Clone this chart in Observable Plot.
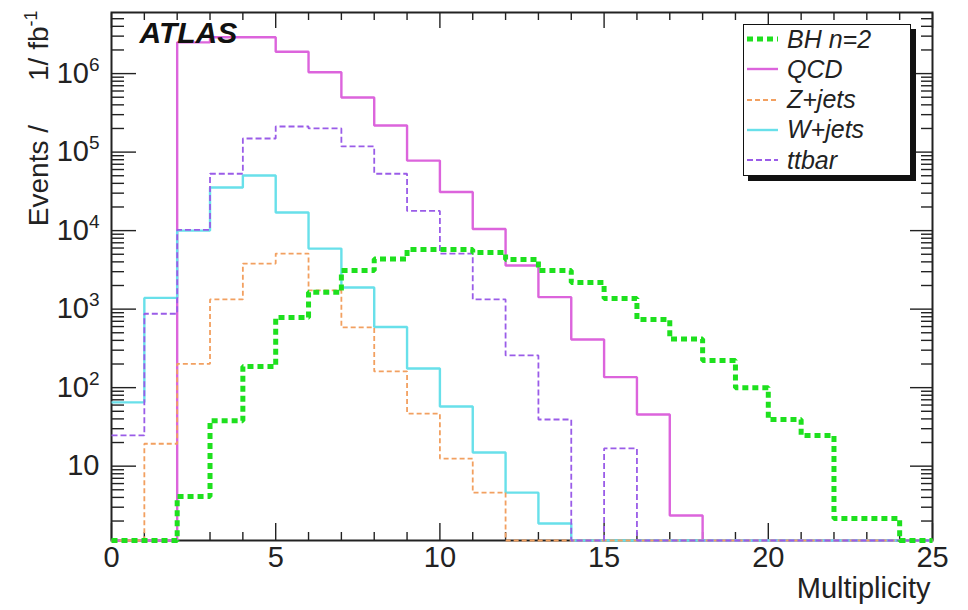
<!DOCTYPE html>
<html>
<head>
<meta charset="utf-8">
<script src="https://cdn.jsdelivr.net/npm/d3@7"></script>
<script src="https://cdn.jsdelivr.net/npm/@observablehq/plot@0.6"></script>
<style>
html, body { margin: 0; padding: 0; background: #fff; }
#wrap { position: relative; width: 968px; height: 610px; overflow: hidden; }
#legend { position: absolute; left: 743px; top: 24px; width: 166px; height: 150px;
  border: 1.8px solid #111; background: #fff; box-shadow: 5px 5px 0 #111;
  font-family: "Liberation Sans", Arial, sans-serif; font-style: italic; font-size: 25px; color: #222; }
.item { position: absolute; left: 3px; height: 30px; display: flex; align-items: center; white-space: nowrap; }
.item svg { display: block; margin-right: 9px; }
</style>
</head>
<body>
<div id="wrap"></div>
<script>
// ---- data (bin lower edges, events per bin) ----
const multiplicity = [0,1,2,3,4,5,6,7,8,9,10,11,12,13,14,15,16,17,18,19,20,21,22,23,24];
const bhN2  = [0, 0, 4.1, 38, 186, 782, 1640, 3100, 4350, 5750, 5750, 5260, 4290, 3100, 2180, 1370, 738, 417, 222, 100, 39.3, 24.6, 2.15, 2.15, 0];
const qcd   = [0, 0, 2.5e6, 2.9e6, 2.9e6, 1.9e6, 1.04e6, 4.96e5, 2.18e5, 7.8e4, 3.1e4, 1.05e4, 3600, 1420, 410, 136, 45.5, 2.35, 0, 0, 0, 0, 0, 0, 0];
const zJets = [0, 19.3, 201, 1330, 3800, 5100, 1730, 584, 161, 46.8, 12.5, 4.6, 0, 0, 0, 0, 0, 0, 0, 0, 0, 0, 0, 0, 0];
const wJets = [65, 1390, 1.0e4, 3.54e4, 5.04e4, 1.7e4, 5900, 1890, 592, 175, 57.5, 14.9, 4.6, 1.86, 0, 0, 0, 0, 0, 0, 0, 0, 0, 0, 0];
const ttbar = [24.6, 873, 1.02e4, 5.3e4, 1.49e5, 2.12e5, 2.0e5, 1.18e5, 5.3e4, 1.78e4, 5100, 1330, 257, 39.3, 0, 16.8, 0, 0, 0, 0, 0, 0, 0, 0, 0];
const seriesNames = ["BH n=2", "QCD", "Z+jets", "W+jets", "ttbar"];
const xTickLabels = [0, 5, 10, 15, 20, 25];
const yTickLabels = [10, 100, 1e3, 1e4, 1e5, 1e6];

// ---- styles ----
const seriesValues = {"BH n=2": bhN2, "QCD": qcd, "Z+jets": zJets, "W+jets": wJets, "ttbar": ttbar};
const styles = {
  "BH n=2": {stroke: "#1ee01e", strokeWidth: 5, strokeDasharray: "6,4"},
  "QCD":    {stroke: "#dc64dc", strokeWidth: 2.4, strokeDasharray: null},
  "Z+jets": {stroke: "#f2a060", strokeWidth: 1.8, strokeDasharray: "5,3"},
  "W+jets": {stroke: "#68e0ea", strokeWidth: 2.4, strokeDasharray: null},
  "ttbar":  {stroke: "#9a5ce8", strokeWidth: 1.8, strokeDasharray: "6,3"}
};
const drawOrder = ["QCD", "W+jets", "Z+jets", "ttbar", "BH n=2"];

const yMin = 1.13, yMax = 6.0e6;
const minorY = [];
for (let n = 0; n <= 6; n++) for (let k = 2; k <= 9; k++) { const v = k * 10 ** n; if (v > yMin && v < yMax) minorY.push(v); }
const minorX = d3.range(0, 26).filter(v => v % 5 !== 0);

function rowsFor(name) {
  const vals = seriesValues[name];
  const rows = multiplicity.map((m, i) => ({x: m, v: vals[i]}));
  rows.push({x: multiplicity[multiplicity.length - 1] + 1, v: vals[vals.length - 1]});
  return rows.map(r => ({x: r.x, y: Math.max(r.v, yMin)}));
}

const tickStyle = {fill: "none", label: null, stroke: "#222", strokeWidth: 1.4};
const marks = [
  Plot.axisY(minorY, {anchor: "left", tickSize: -13, ...tickStyle}),
  Plot.axisY(yTickLabels, {anchor: "left", tickSize: -25, ...tickStyle}),
  Plot.axisY(minorY, {anchor: "right", tickSize: -12, ...tickStyle}),
  Plot.axisY(yTickLabels, {anchor: "right", tickSize: -23, ...tickStyle}),
  Plot.axisX(minorX, {anchor: "bottom", tickSize: -8, ...tickStyle}),
  Plot.axisX(xTickLabels, {anchor: "bottom", tickSize: -17, ...tickStyle}),
  Plot.axisX(minorX, {anchor: "top", tickSize: -7, ...tickStyle}),
  Plot.axisX(xTickLabels, {anchor: "top", tickSize: -15, ...tickStyle}),
  Plot.axisY(yTickLabels, {anchor: "left", tickSize: 0, tickPadding: 12, label: null, fill: "#222", fontSize: 29,
    tickFormat: d => d === 10 ? "10" : "10^" + Math.round(Math.log10(d))}),
  Plot.axisX(xTickLabels, {anchor: "bottom", tickSize: 0, tickPadding: 6, label: null, fill: "#222", fontSize: 29,
    tickFormat: d => String(d)}),
  Plot.frame({stroke: "#222", strokeWidth: 2}),
  ...drawOrder.map(name => Plot.line(rowsFor(name), {
    x: "x", y: "y", curve: "step-after",
    stroke: styles[name].stroke, strokeWidth: styles[name].strokeWidth,
    strokeDasharray: styles[name].strokeDasharray, strokeLinejoin: "miter", strokeLinecap: "butt"
  })),
  Plot.text(["ATLAS"], {frameAnchor: "top-left", dx: 28, dy: 21, textAnchor: "start", lineAnchor: "middle",
    fontSize: 30, fontWeight: "bold", fontStyle: "italic", fill: "#111"}),
  Plot.text(["Multiplicity"], {frameAnchor: "bottom-right", dx: -2, dy: 48, textAnchor: "end", lineAnchor: "middle",
    fontSize: 29, fill: "#222"}),
  Plot.text(["Events /"], {frameAnchor: "top-left", dx: -64, dy: -2, rotate: -90, textAnchor: "end", lineAnchor: "bottom",
    fontSize: 28, fill: "#222"})
];

const chart = Plot.plot({
  width: 968, height: 610,
  marginLeft: 111, marginRight: 36, marginTop: 12, marginBottom: 70,
  style: {fontFamily: "'Liberation Sans', Arial, sans-serif", background: "#fff", overflow: "visible"},
  x: {domain: [0, 25]},
  y: {type: "log", domain: [yMin, yMax]},
  marks
});

// superscripts on y tick labels, and the y-axis title
d3.select(chart).selectAll("text").each(function() {
  const t = this.textContent;
  const sel = d3.select(this);
  const m = /^10\^(\d+)$/.exec(t);
  if (m) {
    sel.text("10");
    sel.append("tspan").attr("dy", "-12px").attr("font-size", "19px").text(m[1]);
  } else if (t === "Events /") {
    sel.text("");
    sel.append("tspan").text("Events /");
    sel.append("tspan").attr("dx", "44px").text("1/ fb");
    sel.append("tspan").attr("dy", "-11px").attr("font-size", "18px").text("-1");
  }
});

const wrap = document.getElementById("wrap");
wrap.appendChild(chart);

// legend
const legend = document.createElement("div");
legend.id = "legend";
seriesNames.forEach((name, i) => {
  const st = styles[name];
  const item = document.createElement("div");
  item.className = "item";
  item.style.top = (-1 + i * 30.3) + "px";
  item.innerHTML = `<svg width="31" height="10"><line x1="0" x2="31" y1="5" y2="5" stroke="${st.stroke}" stroke-width="${st.strokeWidth}" ${st.strokeDasharray ? `stroke-dasharray="${st.strokeDasharray}"` : ""}/></svg><span>${name}</span>`;
  legend.appendChild(item);
});
wrap.appendChild(legend);
</script>
</body>
</html>
